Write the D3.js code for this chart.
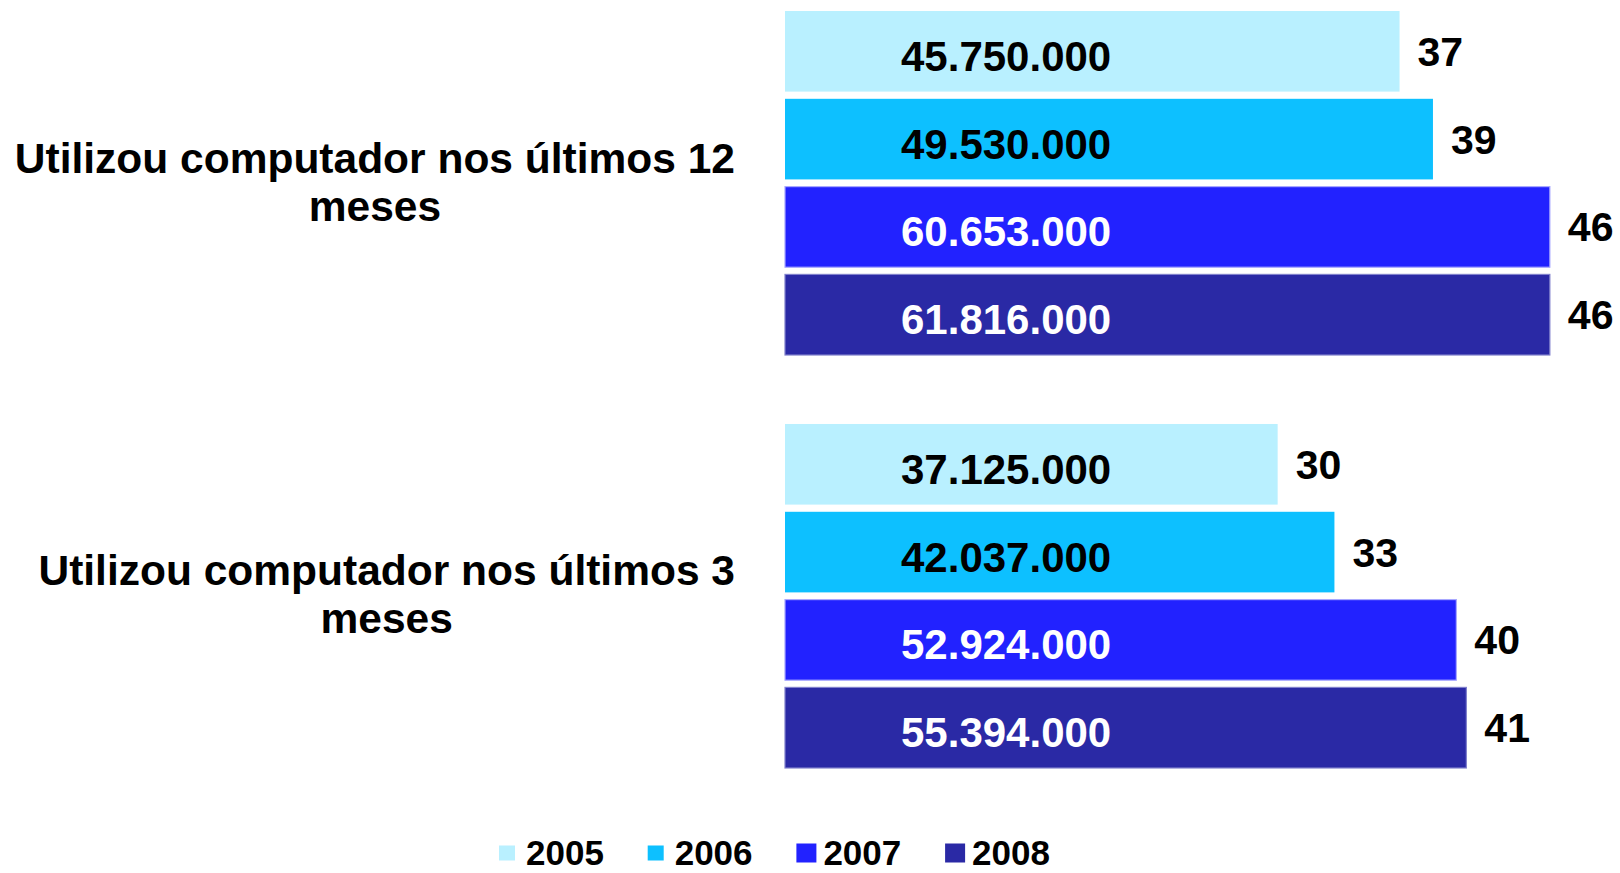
<!DOCTYPE html>
<html>
<head>
<meta charset="utf-8">
<script src="https://cdn.jsdelivr.net/npm/d3@7"></script>
<style>
  html, body { margin: 0; padding: 0; background: #ffffff; }
  svg { display: block; }
  text { font-family: "Liberation Sans", Arial, Helvetica, sans-serif; font-weight: bold; }
</style>
</head>
<body>
<svg id="chart" width="1620" height="873"></svg>
<script>
// ---- data ----
const categories = [
  ["Utilizou computador nos últimos 12", "meses"],
  ["Utilizou computador nos últimos 3", "meses"]
];
const years = ["2005", "2006", "2007", "2008"];
// percentage of population (bar length)
const pct12 = [36.8, 38.8, 45.8, 45.8];
const pct3  = [29.5, 32.9, 40.2, 40.8];
// absolute numbers shown inside bars
const abs12 = [45750000, 49530000, 60653000, 61816000];
const abs3  = [37125000, 42037000, 52924000, 55394000];

const colors  = ["#b9f0ff", "#0dc0ff", "#2222ff", "#2a29a5"];
const strokes = ["none", "none", "#a8a8ff", "#8080cc"];
const insideText = ["#000000", "#000000", "#ffffff", "#ffffff"];

const catKeys = categories.map(c => c.join(" "));
const series = [pct12, pct3];
const absSeries = [abs12, abs3];

const rows = [];
catKeys.forEach((k, ci) => {
  years.forEach((y, yi) => {
    rows.push({ cat: k, ci, year: y, yi, pct: series[ci][yi], abs: absSeries[ci][yi] });
  });
});

// ---- scales ----
const svg = d3.select("#chart");
const x = d3.scaleLinear().domain([0, 100]).range([785, 785 + 1670]);
const yGroup = d3.scaleBand().domain(catKeys).range([11, 768]).paddingInner(0.167).paddingOuter(0);
const yInner = d3.scaleBand().domain(years).range([0, yGroup.bandwidth()]).paddingInner(0.082).paddingOuter(0);
const color = d3.scaleOrdinal().domain(years).range(colors);

const fmt = v => d3.format(",")(v).replace(/,/g, ".");

// ---- bars ----
const g = svg.append("g");
g.selectAll("rect.bar").data(rows).enter().append("rect")
  .attr("class", "bar")
  .attr("x", x(0))
  .attr("y", d => yGroup(d.cat) + yInner(d.year))
  .attr("width", d => x(d.pct) - x(0))
  .attr("height", yInner.bandwidth())
  .attr("fill", d => color(d.year))
  .attr("stroke", d => strokes[d.yi])
  .attr("stroke-width", 1.2);

// inside labels (absolute numbers)
g.selectAll("text.abs").data(rows).enter().append("text")
  .attr("class", "abs")
  .attr("x", x(0) + 116)
  .attr("y", d => yGroup(d.cat) + yInner(d.year) + yInner.bandwidth() / 2 + 19.5)
  .attr("font-size", 42)
  .attr("fill", d => insideText[d.yi])
  .text(d => fmt(d.abs));

// outside labels (percentages)
g.selectAll("text.pct").data(rows).enter().append("text")
  .attr("class", "pct")
  .attr("x", d => x(d.pct) + 18)
  .attr("y", d => yGroup(d.cat) + yInner(d.year) + yInner.bandwidth() / 2 + 14.5)
  .attr("font-size", 41)
  .attr("fill", "#000")
  .text(d => Math.round(d.pct));

// ---- category labels ----
const labelRight = 735;
categories.forEach((lines, ci) => {
  const cy = yGroup(catKeys[ci]) + yGroup.bandwidth() / 2;
  const grp = svg.append("g");
  const texts = lines.map((ln, li) =>
    grp.append("text")
      .attr("font-size", 42.5)
      .attr("text-anchor", "middle")
      .attr("y", cy - 10.5 + li * 48)
      .attr("fill", "#000")
      .text(ln)
  );
  const maxW = d3.max(texts, t => t.node().getComputedTextLength());
  texts.forEach(t => t.attr("x", labelRight - maxW / 2));
});

// ---- legend ----
const legendX = d3.scaleBand().domain(years).range([499, 499 + 148.7 * 4]).padding(0);
const sqSize = [15, 15, 19, 19];
const legend = svg.append("g");
years.forEach((y, i) => {
  const lx = legendX(y);
  const s = sqSize[i];
  legend.append("rect")
    .attr("x", lx)
    .attr("y", 853 - s / 2)
    .attr("width", s + 1)
    .attr("height", s)
    .attr("fill", colors[i]);
  legend.append("text")
    .attr("x", lx + 27)
    .attr("y", 865)
    .attr("font-size", 35)
    .attr("fill", "#000")
    .text(y);
});
</script>
</body>
</html>
